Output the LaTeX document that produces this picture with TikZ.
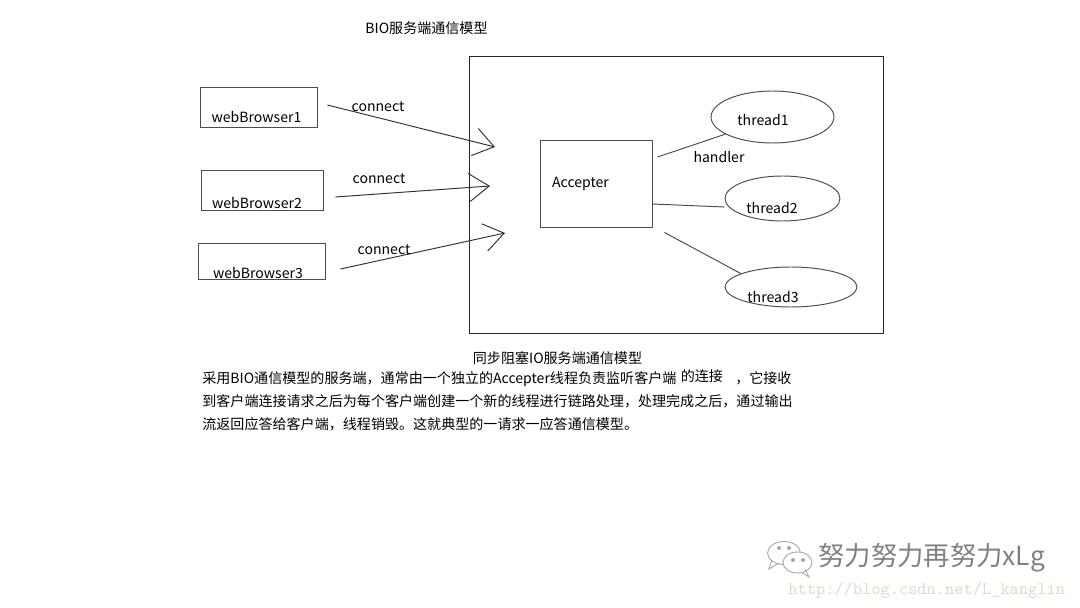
\documentclass[tikz,border=0pt]{standalone}
\usepackage{fontspec}
\setmainfont{Noto Sans CJK SC}
\usetikzlibrary{arrows.meta,shapes.geometric}

\begin{document}
\begin{tikzpicture}[x=0.02cm,y=-0.02cm,font=\fontsize{8}{13.3}\selectfont,
 box/.style={draw=black!70,line width=0.55pt,inner sep=0pt,minimum height=0.8cm},
 thread/.style={draw=black!70,line width=0.55pt,ellipse,inner sep=0pt},
 conn/.style={draw=black!80,line width=0.55pt,-{Straight Barb[length=0.4cm,width=0.56cm]}},
 link/.style={draw=black!70,line width=0.55pt},
 wm/.style={draw=black!35,line width=0.5pt}]
\useasboundingbox (0,0) rectangle (1080,608);
\node (title) at (426.5,28) {BIO服务端通信模型};
% server side
\node[draw=black!85,line width=0.55pt,inner sep=0pt,minimum width=8.3cm,minimum height=5.56cm] (server) at (676.5,195) {};
\node[box,minimum width=2.24cm,minimum height=1.74cm,label={[xshift=-0.31cm]center:Accepter}] (acc) at (596,183.5) {};
\node[thread,minimum width=2.46cm,minimum height=1.04cm,label={[xshift=-0.19cm,yshift=-0.06cm]center:thread1}] (t1) at (772.5,117) {};
\node[thread,minimum width=2.3cm,minimum height=0.9cm,label={[xshift=-0.21cm,yshift=-0.19cm]center:thread2}] (t2) at (782.5,198.5) {};
\node[thread,minimum width=2.64cm,minimum height=0.8cm,label={[xshift=-0.36cm,yshift=-0.2cm]center:thread3}] (t3) at (791,287) {};
\draw[link] ([xshift=0.1cm,yshift=0.53cm]acc.east)--(t1.200);
\draw[link] ([yshift=-0.41cm]acc.east)--([yshift=-0.17cm]t2.west);
\draw[link] ([xshift=0.24cm,yshift=-0.1cm]acc.south east)--(t3.165);
\node (handler) at (719,157) {handler};
% clients
\node[box,minimum width=2.34cm,label={[xshift=-0.04cm,yshift=-0.2cm]center:webBrowser1}] (wb1) at (258.5,107) {};
\node[box,minimum width=2.44cm,label={[xshift=-0.1cm,yshift=-0.26cm]center:webBrowser2}] (wb2) at (262,190) {};
\node[box,minimum width=2.54cm,minimum height=0.72cm,label={[xshift=-0.07cm,yshift=-0.24cm]center:webBrowser3}] (wb3) at (261.5,261) {};
\coordinate (in1) at (495,147);
\coordinate (in2) at (490,186);
\coordinate (in3) at (505,233);
\foreach \n/\dx/\dy in {1/0.2/0.04,2/0.24/-0.14,3/0.3/-0.16}{\draw[conn] ([xshift=\dx cm,yshift=\dy cm]wb\n.east)--(in\n);}
\node (c1) at (378,107) {connect};
\node (c2) at (379,179) {connect};
\node (c3) at (384,250) {connect};
% caption and text
\node (cap) at (557.5,358) {同步阻塞IO服务端通信模型};
\node[anchor=west,align=left,inner sep=0pt] (txt) at (202,400.5) {采用BIO通信模型的服务端，通常由一个独立的Accepter线程负责监听客户端\hspace{2.5pt}\raisebox{1pt}{的连接}\hspace{7pt}，它接收\\到客户端连接请求之后为每个客户端创建一个新的线程进行链路处理，处理完成之后，通过输出\\流返回应答给客户端，线程销毁。这就典型的一请求一应答通信模型。};
% watermark
\draw[wm,fill=white] (784,553) ellipse [x radius=0.33cm,y radius=0.23cm];
\draw[wm] (772,560)--(769,569)--(779,563);
\draw[wm,fill=white] (797.5,562.5) ellipse [x radius=0.29cm,y radius=0.21cm];
\draw[wm] (805,569)--(809,577)--(801,572);
\foreach \p in {(779,548),(789,548),(793,560),(803,560)}{\fill[black!35] \p circle (0.04cm);}
\node[font=\fontsize{15}{15}\selectfont,text=black!50,anchor=west,inner sep=0pt] (wmname) at (818,558) {努力努力再努力xLg};
\node[font=\fontsize{10}{10}\ttfamily,text={rgb,255:red,215;green,222;blue,200},anchor=west,inner sep=0pt] (wmurl) at (788,590) {http://blog.csdn.net/L\_kanglin};
\end{tikzpicture}
\end{document}
